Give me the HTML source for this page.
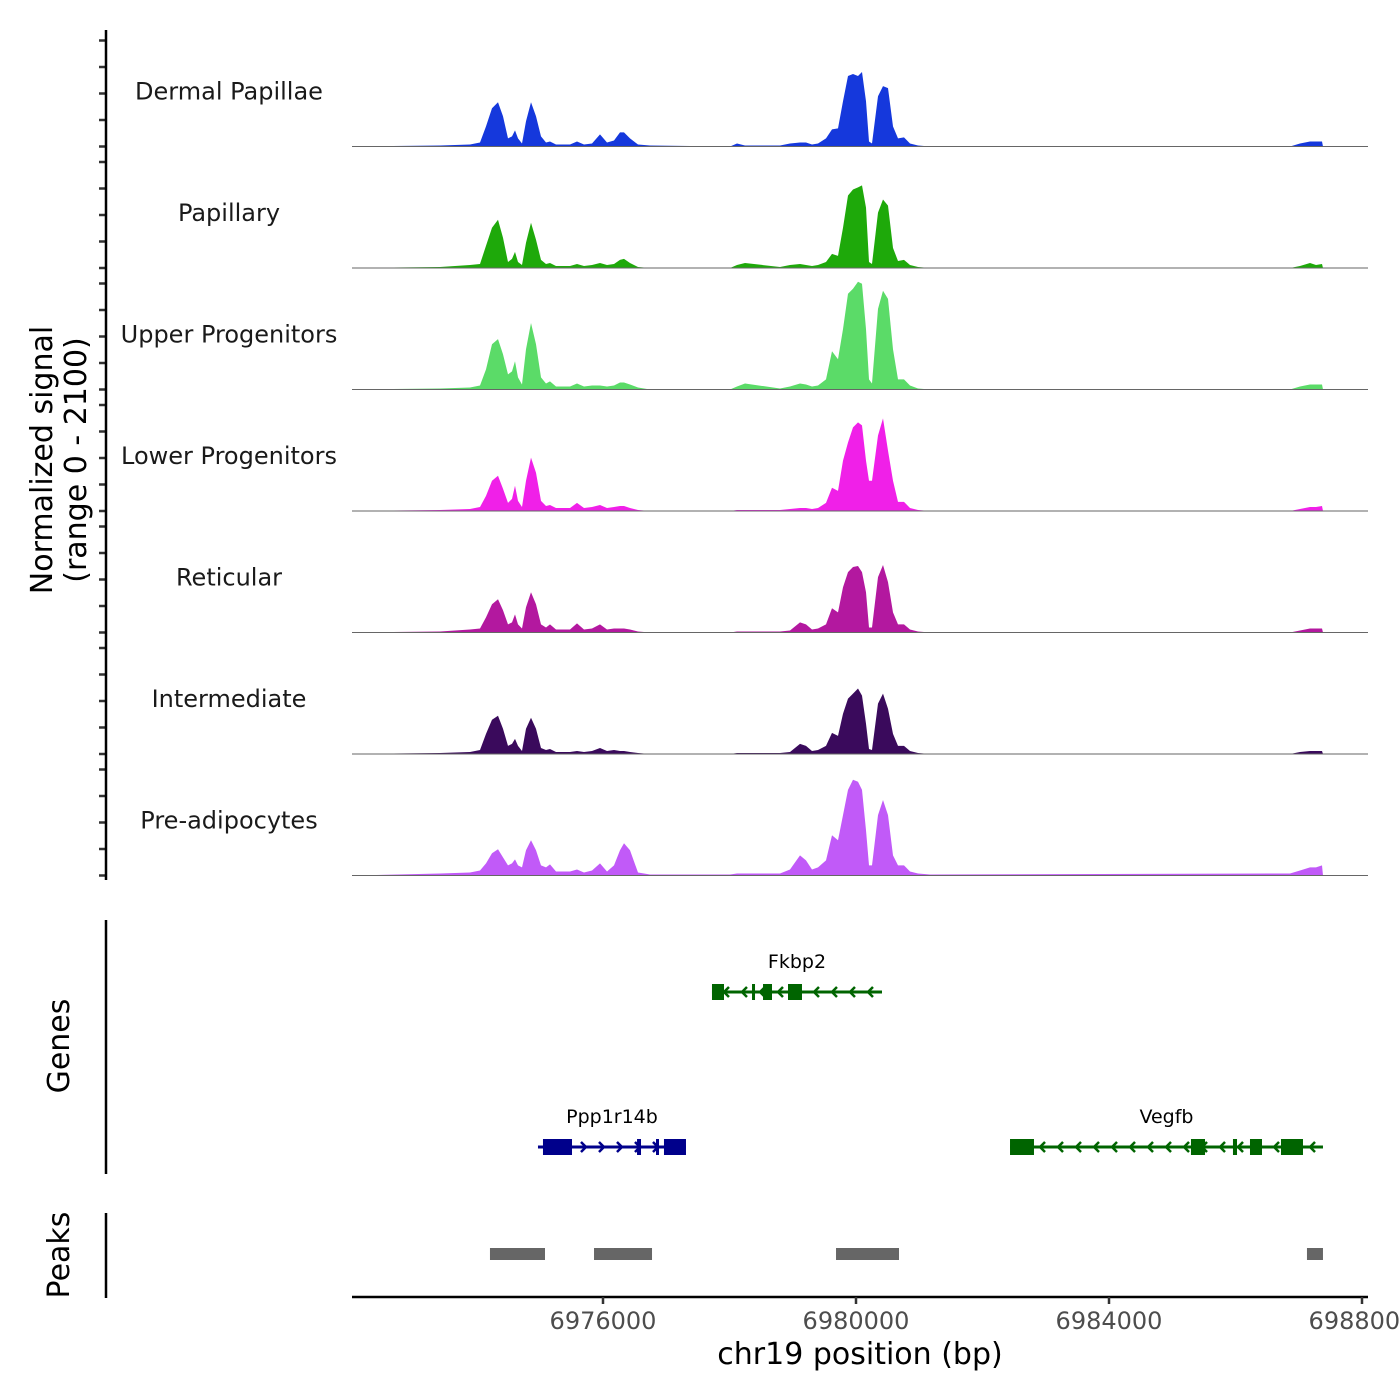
<!DOCTYPE html>
<html><head><meta charset="utf-8"><style>
body{margin:0;background:#fff}
svg{display:block;font-family:"DejaVu Sans","Liberation Sans",sans-serif}
</style></head><body>
<svg id="chart" width="1400" height="1400" viewBox="0 0 1400 1400" xmlns="http://www.w3.org/2000/svg">
<g id="tracks"></g>
<g id="genes"></g>
<g id="peaks"></g>
<g id="axes"></g>
</svg>
<script>
const positions=[6972032,6973423,6973897,6974055,6974150,6974245,6974340,6974419,6974498,6974561,6974609,6974656,6974719,6974783,6974862,6974941,6975020,6975099,6975162,6975257,6975478,6975589,6975700,6975826,6975953,6976063,6976174,6976269,6976332,6976427,6976553,6976743,6978008,6978119,6978245,6978798,6978956,6979115,6979209,6979304,6979399,6979526,6979620,6979715,6979794,6979873,6979953,6980032,6980095,6980158,6980205,6980253,6980348,6980427,6980506,6980585,6980664,6980759,6980854,6980980,6981170,6986862,6987020,6987178,6987273,6987367,6987383];
const trackNames=["Dermal Papillae","Papillary","Upper Progenitors","Lower Progenitors","Reticular","Intermediate","Pre-adipocytes"];
const trackColors=["#1538dc","#1ea90a","#5bdb68","#f020e8","#b3189f","#3a0a5c","#c15af8"];
const dermalValues=[0,19,38,76,380,722,836,570,152,190,304,152,57,475,836,570,190,76,95,38,38,95,38,57,228,76,114,266,266,152,38,19,0,57,19,19,57,76,76,38,57,152,323,342,855,1330,1368,1330,1406,855,95,57,950,1140,1102,380,152,171,57,19,0,0,57,95,95,95,0];
const papillaryValues=[0,19,57,76,418,760,912,570,114,171,304,114,57,475,855,532,152,76,95,38,38,76,38,57,95,57,76,152,171,95,19,0,0,57,95,19,57,76,57,38,57,114,266,228,760,1368,1482,1520,1558,1140,114,76,1045,1292,1178,380,133,152,57,19,0,0,38,95,57,76,0];
const upperValues=[0,19,38,76,380,855,950,665,285,342,532,228,95,760,1254,855,228,114,152,57,57,114,57,76,76,57,76,133,133,95,38,0,0,57,114,19,57,114,95,57,76,190,722,570,1140,1805,1900,2033,1995,1140,190,114,1520,1862,1710,760,190,190,76,19,0,0,57,95,95,95,0];
const lowerValues=[0,19,38,76,285,570,665,418,152,228,475,190,76,570,1007,722,190,95,114,57,57,152,57,76,114,57,76,95,95,57,19,0,0,19,19,19,38,57,57,38,57,152,437,380,950,1292,1577,1672,1615,950,570,570,1425,1748,1140,570,171,171,57,19,0,0,38,76,76,95,0];
const reticularValues=[0,19,57,76,285,532,627,418,152,190,342,152,76,475,760,532,152,95,152,57,57,171,57,76,152,57,76,76,76,57,19,0,0,19,19,19,38,190,152,57,76,152,456,380,855,1140,1235,1254,1140,760,95,95,1045,1273,950,380,152,152,57,19,0,0,38,76,76,76,0];
const intermediateValues=[0,19,38,76,380,646,722,475,152,190,285,152,57,475,684,475,114,76,95,38,38,57,38,57,114,57,76,57,57,38,19,0,0,19,19,19,38,190,152,57,76,152,399,342,760,1045,1140,1235,1102,570,95,76,950,1140,855,380,152,152,57,19,0,0,38,57,57,57,0];
const preadipoValues=[0,38,57,95,228,418,494,342,190,228,304,190,152,475,665,475,190,152,209,76,76,114,57,95,228,76,190,475,608,475,57,19,19,38,38,38,114,380,285,114,152,285,760,665,1140,1615,1805,1767,1615,855,190,190,1140,1425,1140,380,190,190,76,38,19,38,95,152,152,190,0];
const trackValues=[dermalValues,papillaryValues,upperValues,lowerValues,reticularValues,intermediateValues,preadipoValues];
const yTicks=[0,500,1000,1500,2000];
const xTicks=[6976000,6980000,6984000,6988000];
const xTickLabels=["6976000","6980000","6984000","6988000"];
const geneNames=["Fkbp2","Ppp1r14b","Vegfb"];
const geneStarts=[6977723,6974972,6982435];
const geneEnds=[6980411,6977312,6987383];
const geneStrands=[-1,1,-1];
const geneRows=[0,1,1];
const geneColors=["#006400","#00008b","#006400"];
const geneExons=[[[6977723,6977913],[6978356,6978403],[6978530,6978672],[6978925,6979146]],[[6975051,6975510],[6976538,6976601],[6976838,6976870],[6976964,6977312]],[[6982435,6982814],[6985296,6985518],[6985960,6986024],[6986229,6986419],[6986719,6987067]]];
const peakStarts=[6974213,6975858,6979684,6987130];
const peakEnds=[6975083,6976775,6980680,6987383];

const NS="http://www.w3.org/2000/svg";
function mk(tag,attrs,parent){const e=document.createElementNS(NS,tag);for(const k in attrs)e.setAttribute(k,attrs[k]);parent.appendChild(e);return e;}
const xScale=bp=>603+(bp-6976000)*0.06325;
const trackBase=i=>146.5+i*121.5;
const yScale=(i,v)=>trackBase(i)-v/2100*111.3;

const tracks=document.getElementById('tracks');
trackValues.forEach((vals,i)=>{
  const g=mk('g',{},tracks);
  
  
  let d='M'+xScale(positions[0])+','+trackBase(i);
  positions.forEach((p,j)=>{d+=' L'+xScale(p).toFixed(1)+','+yScale(i,vals[j]).toFixed(1);});
  d+=' L'+xScale(positions[positions.length-1])+','+trackBase(i)+' Z';
  const a=mk('path',{d:d,fill:trackColors[i]},g);
  
  
  const l=mk('line',{x1:352,x2:1368,y1:trackBase(i),y2:trackBase(i),stroke:'#666',"stroke-width":1},g);
  
  
  const t=mk('text',{x:229,y:trackBase(i)-47,"text-anchor":"middle","font-size":24,fill:'#1a1a1a'},g);
  t.textContent=trackNames[i];
  
  
  yTicks.forEach(v=>{
    const tk=mk('line',{x1:99,x2:106,y1:yScale(i,v),y2:yScale(i,v),stroke:'#333',"stroke-width":2.5},g);
    
    
  });
});

const genes=document.getElementById('genes');
geneNames.forEach((n,i)=>{
  const y=geneRows[i]===0?992:1147;
  const g=mk('g',{},genes);
  
  
  const c=geneColors[i];
  const x1=xScale(geneStarts[i]),x2=xScale(geneEnds[i]);
  mk('line',{x1:x1,x2:x2,y1:y,y2:y,stroke:c,"stroke-width":3},g);
  for(let x=x1+12;x<x2-6;x+=18){
    const s=geneStrands[i]*5;
    mk('polyline',{points:(x-s)+','+(y-5)+' '+x+','+y+' '+(x-s)+','+(y+5),fill:'none',stroke:c,"stroke-width":2.5},g);
  }
  geneExons[i].forEach(e=>{
    const r=mk('rect',{x:xScale(e[0]),y:y-8,width:Math.max(3,xScale(e[1])-xScale(e[0])),height:16,fill:c},g);
    
    
  });
  const t=mk('text',{x:(x1+x2)/2,y:y-24,"text-anchor":"middle","font-size":19,fill:'#000'},g);
  t.textContent=n;
  
  
});

const peaks=document.getElementById('peaks');
peakStarts.forEach((s,i)=>{
  const r=mk('rect',{x:xScale(s),y:1248,width:xScale(peakEnds[i])-xScale(s),height:12,fill:'#666'},peaks);
  
  
});

const axes=document.getElementById('axes');
[[30,880],[920,1174],[1213,1298]].forEach(r=>{
  const l=mk('line',{x1:106,x2:106,y1:r[0],y2:r[1],stroke:'#000',"stroke-width":2.5},axes);
  
  
});
const xl=mk('line',{x1:352,x2:1368,y1:1297,y2:1297,stroke:'#000',"stroke-width":2.5},axes);


xTicks.forEach((v,i)=>{
  const x=xScale(v);
  const tk=mk('line',{x1:x,x2:x,y1:1297,y2:1304,stroke:'#333',"stroke-width":2.5},axes);
  
  
  const t=mk('text',{x:x,y:1329,"text-anchor":"middle","font-size":24,fill:'#4d4d4d'},axes);
  t.textContent=xTickLabels[i];
  
  
});
const xt=mk('text',{x:860,y:1364,"text-anchor":"middle","font-size":30,fill:'#000'},axes);
xt.textContent='chr19 position (bp)';


const yt=mk('text',{transform:'translate(52,460) rotate(-90)',"text-anchor":"middle","font-size":30,fill:'#000'},axes);


const t1=mk('tspan',{x:0,dy:0},yt);t1.textContent='Normalized signal';
const t2=mk('tspan',{x:0,dy:34},yt);t2.textContent='(range 0 - 2100)';
const gt=mk('text',{transform:'translate(69,1046) rotate(-90)',"text-anchor":"middle","font-size":30,fill:'#000'},axes);
gt.textContent='Genes';


const pt=mk('text',{transform:'translate(69,1255) rotate(-90)',"text-anchor":"middle","font-size":30,fill:'#000'},axes);
pt.textContent='Peaks';


</script>
</body></html>
